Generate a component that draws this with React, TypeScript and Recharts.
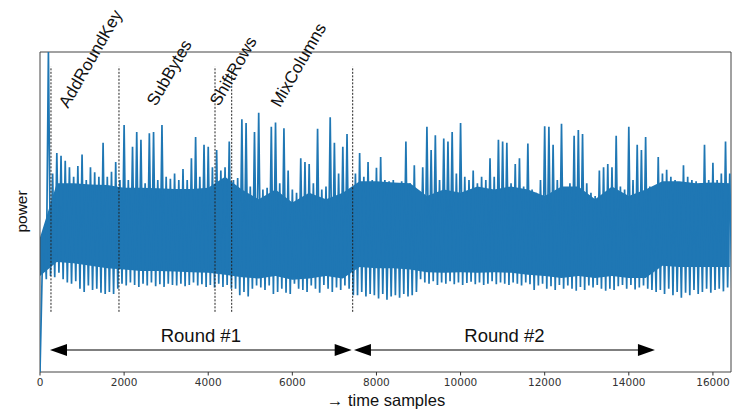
import React from 'react';
import {
  ComposedChart,
  Line,
  Area,
  XAxis,
  YAxis,
  ReferenceLine,
  ReferenceDot,
  ReferenceArea,
} from 'recharts';

// ---- data ----
const SAMPLE_STEP = 100; // peak at i*step, trough at i*step + step/2
const peaks = [
  0, 2.25, 5.0, 3.1, 3.42, 3.38, 3.3, 3.2, 3.05, 3.22, 3.4, 3.0, 3.2, 3.12, 3.05, 3.58, 3.05, 3.13, 3.28,
  3.0, 3.86, 3.0, 3.52, 3.75, 3.63, 2.95, 3.73, 3.75, 3.0, 3.86, 3.05, 3.02, 3.1, 3.0, 3.17, 3.0, 3.34, 3.67, 3.05, 3.55, 3.52, 3.2,
  3.47, 3.15, 3.2, 3.6,
  3.0, 3.03, 3.95, 3.89, 2.9, 3.75, 4.05, 2.85, 2.88, 3.83, 3.9, 2.95, 3.81, 3.15, 2.85, 2.8, 3.34, 3.28, 3.25, 2.95, 3.8, 2.85, 2.9, 3.98, 3.58, 3.1, 3.52, 3.72, 2.7,
  3.1, 3.42, 3.05, 3.28, 3.0, 3.19, 3.36, 3.0, 2.98, 3.0, 2.95, 2.98, 3.6, 2.95, 3.23, 2.5,
  3.2, 3.83, 3.47, 3.7, 3.0, 3.65, 3.6, 3.75, 3.1, 3.89,
  3.05, 3.0, 3.15, 2.95, 3.05, 3.0, 3.34, 3.05, 3.63, 3.6,
  3.58, 2.95, 3.25, 3.34, 2.9, 3.57, 2.85, 2.8, 3.0, 3.84,
  3.83, 3.55, 3.0, 3.88, 2.84, 2.95, 3.69, 3.78, 3.72, 2.95,
  2.8, 2.75, 3.15, 3.2, 3.25, 3.2, 3.69, 2.9, 2.85, 3.83,
  3.0, 3.55, 3.47, 3.67, 2.9, 2.4, 3.36, 3.1, 3.16, 3.05,
  3.0, 2.95, 3.23, 3.05, 3.0, 2.98, 2.95, 3.55, 3.0, 3.27,
  3.0, 3.1, 3.6, 3.1,
];
const troughs = [
  1.5, 1.45, 1.5, 1.48, 1.55, 1.45, 1.4, 1.38, 1.42, 1.3, 1.25, 1.35, 1.28, 1.3, 1.24, 1.22, 1.25, 1.22, 1.3,
  1.38, 1.35, 1.4, 1.36, 1.33, 1.38, 1.35, 1.4, 1.34, 1.37, 1.33, 1.38, 1.36, 1.35, 1.38, 1.34, 1.36, 1.4, 1.35, 1.37, 1.33, 1.36, 1.32,
  1.38, 1.33, 1.36, 1.3,
  1.3, 1.2, 1.25, 1.18, 1.3, 1.35, 1.32, 1.28, 1.35, 1.22, 1.25, 1.3, 1.24, 1.22, 1.38, 1.3, 1.28, 1.25, 1.35, 1.3, 1.24, 1.36, 1.3, 1.25, 1.32, 1.28, 1.35, 1.3, 1.2,
  1.2, 1.25, 1.18, 1.22, 1.2, 1.15, 1.22, 1.13, 1.18, 1.2, 1.16, 1.22, 1.18, 1.2, 1.25, 1.45,
  1.4, 1.38, 1.42, 1.36, 1.4, 1.38, 1.42, 1.37, 1.4, 1.36, 1.39, 1.41, 1.37, 1.4, 1.36, 1.38, 1.42, 1.37, 1.4, 1.38,
  1.36, 1.4, 1.38, 1.35, 1.4, 1.37, 1.28, 1.35, 1.38, 1.3, 1.34, 1.28, 1.36, 1.3, 1.35, 1.3, 1.27, 1.33, 1.28, 1.35,
  1.32, 1.36, 1.3, 1.27, 1.3, 1.28, 1.34, 1.36, 1.3, 1.36, 1.29, 1.32, 1.35, 1.3, 1.28, 1.25,
  1.28, 1.22, 1.3, 1.2, 1.25, 1.16, 1.24, 1.2, 1.28, 1.22, 1.25, 1.3, 1.24, 1.28, 1.3, 1.26, 1.32, 1.3,
];

const CORE_STEP = 400; // dense core of the trace, every 400 samples
const coreLow = [
  1.5, 1.72, 1.7, 1.66, 1.62, 1.6, 1.58, 1.58, 1.57, 1.56, 1.55, 1.52, 1.48, 1.46, 1.5, 1.44, 1.46, 1.5, 1.46,
  1.64, 1.62, 1.62, 1.6, 1.56, 1.55, 1.56, 1.55, 1.56, 1.55, 1.52, 1.5, 1.47, 1.5, 1.47, 1.5, 1.47, 1.47,
  1.66, 1.64, 1.64, 1.64, 1.64,
];
const coreHigh = [
  2.1, 2.95, 2.95, 2.93, 2.92, 2.88, 2.88, 2.87, 2.86, 2.86, 2.88, 3.05, 2.85, 2.7, 2.85, 2.65, 2.8, 2.7, 2.8,
  2.98, 2.98, 2.96, 2.95, 2.75, 2.85, 2.8, 2.9, 2.85, 2.9, 2.85, 2.75, 2.9, 2.9, 2.7, 2.9, 2.75, 2.85,
  2.98, 2.98, 2.95, 2.96, 2.95,
];

const xTicks = [0, 2000, 4000, 6000, 8000, 10000, 12000, 14000, 16000];
const yTicks = [0, 1, 2, 3, 4, 5];
const X_MAX = 16430;

const phaseLines = [261, 1878, 4161, 4558, 7435];
const phaseLineSpan = [0.94, 4.77];
const phaseNames = ['AddRoundKey', 'SubBytes', 'ShiftRows', 'MixColumns'];
const phaseLabelT = [666, 2758, 4256, 5706];
const phaseLabelV = [4.11, 4.14, 4.14, 4.12];

const roundNames = ['Round #1', 'Round #2'];
const roundFrom = [238, 7465];
const roundTo = [7411, 14622];
const roundArrowV = 0.344;
const roundLabelV = 0.47;

// ---- rows for the library ----
const trace = peaks.flatMap((p, i) => [
  { t: i * SAMPLE_STEP, v: p },
  { t: i * SAMPLE_STEP + SAMPLE_STEP / 2, v: troughs[i] },
]);
const core = coreLow.map((lo, k) => ({ t: k * CORE_STEP, band: [lo, coreHigh[k]] }));

const BLUE = '#1f77b4';
const SANS = '"Liberation Sans", Arial, sans-serif';

const ArrowShape = (p: any) => {
  const { x1, y1, x2 } = p;
  const head = 17;
  const half = 6;
  return (
    <g>
      <line x1={x1 + 8} y1={y1} x2={x2 - 8} y2={y1} stroke="#000" strokeWidth={1.2} />
      <polygon points={`${x1},${y1} ${x1 + head},${y1 - half} ${x1 + head},${y1 + half}`} fill="#000" />
      <polygon points={`${x2},${y1} ${x2 - head},${y1 - half} ${x2 - head},${y1 + half}`} fill="#000" />
    </g>
  );
};

const makeRotLabel = (text: string) => (p: any) => (
  <text
    x={p.cx}
    y={p.cy}
    transform={`rotate(-60 ${p.cx} ${p.cy})`}
    fontFamily={SANS}
    fontSize={17}
    fill="#111"
  >
    {text}
  </text>
);

const makeRoundLabel = (text: string) => (p: any) => (
  <text x={p.cx} y={p.cy} textAnchor="middle" fontFamily={SANS} fontSize={18.5} fill="#111">
    {text}
  </text>
);

export default function App() {
  return (
    <div style={{ position: 'fixed', left: 0, top: 0, width: 732, height: 414, background: '#fff' }}>
      <ComposedChart width={732} height={414} margin={{ top: 52, right: 1, left: 30, bottom: 12 }}>
        <XAxis
          type="number"
          dataKey="t"
          domain={[0, X_MAX]}
          allowDataOverflow
          ticks={xTicks}
          interval={0}
          height={30}
          tickSize={3.5}
          tickMargin={3}
          axisLine={false}
          tickLine={{ stroke: '#333' }}
          tick={{ fontSize: 10.5, fill: '#333', fontFamily: '"DejaVu Sans", sans-serif' }}
        />
        <YAxis
          type="number"
          domain={[0, 5]}
          allowDataOverflow
          ticks={yTicks}
          tick={false}
          width={10}
          tickSize={3.5}
          axisLine={false}
          tickLine={{ stroke: '#333' }}
        />
        <Area
          data={core}
          dataKey="band"
          type="linear"
          fill={BLUE}
          fillOpacity={1}
          stroke="none"
          isAnimationActive={false}
        />
        <Line
          data={trace}
          dataKey="v"
          type="linear"
          stroke={BLUE}
          strokeWidth={1.7}
          dot={false}
          isAnimationActive={false}
        />
        {phaseLines.map((t) => (
          <ReferenceLine
            key={'pl' + t}
            segment={[
              { x: t, y: phaseLineSpan[0] },
              { x: t, y: phaseLineSpan[1] },
            ]}
            stroke="#222"
            strokeWidth={1}
            strokeDasharray="2 1.5"
          />
        ))}
        {roundNames.map((name, i) => (
          <ReferenceLine
            key={'ra' + name}
            segment={[
              { x: roundFrom[i], y: roundArrowV },
              { x: roundTo[i], y: roundArrowV },
            ]}
            shape={ArrowShape}
          />
        ))}
        {roundNames.map((name, i) => (
          <ReferenceDot
            key={'rl' + name}
            x={(roundFrom[i] + roundTo[i]) / 2}
            y={roundLabelV}
            r={0}
            ifOverflow="visible"
            shape={makeRoundLabel(name)}
          />
        ))}
        {phaseNames.map((name, i) => (
          <ReferenceDot
            key={'pn' + name}
            x={phaseLabelT[i]}
            y={phaseLabelV[i]}
            r={0}
            ifOverflow="visible"
            shape={makeRotLabel(name)}
          />
        ))}
        <ReferenceArea
          x1={0}
          x2={X_MAX}
          y1={0}
          y2={5}
          fill="none"
          stroke="#444"
          strokeWidth={1}
          ifOverflow="visible"
        />
      </ComposedChart>
      <svg
        width={732}
        height={414}
        style={{ position: 'absolute', left: 0, top: 0, pointerEvents: 'none' }}
      >
        <text
          x={27}
          y={211.5}
          transform="rotate(-90 27 211.5)"
          textAnchor="middle"
          fontFamily={SANS}
          fontSize={15.5}
          fill="#111"
        >
          power
        </text>
        <text x={386} y={406} textAnchor="middle" fontFamily={SANS} fontSize={16.5} fill="#111">
          → time samples
        </text>
      </svg>
    </div>
  );
}
